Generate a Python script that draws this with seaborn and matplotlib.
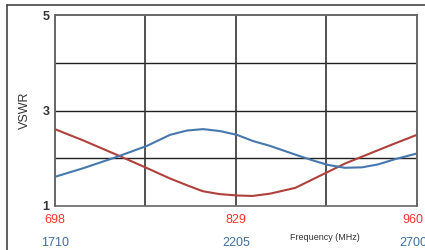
import numpy as np
import pandas as pd
import matplotlib.pyplot as plt
import seaborn as sns
from matplotlib.lines import Line2D
from matplotlib.transforms import ScaledTranslation

# low band (red) and high band (blue) VSWR
low_freq = [698, 718, 743, 765, 781, 794, 805, 817, 830, 841, 854, 872, 884, 896, 908, 920, 932, 944, 960]
low_vswr = [2.61, 2.38, 2.07, 1.79, 1.58, 1.43, 1.31, 1.25, 1.22, 1.21, 1.26, 1.38, 1.55, 1.72, 1.89, 2.03, 2.17, 2.31, 2.49]
high_freq = [1710, 1787, 1880, 1962, 2025, 2071, 2115, 2161, 2208, 2252, 2298, 2366, 2413, 2457, 2503, 2550, 2593, 2640, 2700]
high_vswr = [1.61, 1.79, 2.03, 2.26, 2.49, 2.58, 2.61, 2.57, 2.49, 2.36, 2.26, 2.08, 1.96, 1.86, 1.80, 1.81, 1.87, 1.98, 2.10]
low_ticks = [698, 829, 960]
high_ticks = [1710, 2205, 2700]

sns.set_style("white")
plt.rcParams['font.family'] = ['Liberation Sans', 'DejaVu Sans']

fig = plt.figure(figsize=(4.25, 2.5), dpi=100)
ax = fig.add_axes([0.129, 0.176, 0.852, 0.764])

low = pd.DataFrame({"f": low_freq, "v": low_vswr})
high = pd.DataFrame({"f": high_freq, "v": high_vswr})

sns.lineplot(data=low, x="f", y="v", ax=ax, color="#b0403c", lw=1.5)
ax.set_xlim(698, 960)
ax.set_ylim(1, 5)

ax2 = ax.twiny()
sns.lineplot(data=high, x="f", y="v", ax=ax2, color="#4677ad", lw=1.5)
ax2.set_xlim(1710, 2700)
ax2.set_ylim(1, 5)

# grid
for yv in [2, 3, 4]:
    ax.axhline(yv, color="#222222", lw=1.0, zorder=0)
for xv in np.linspace(698, 960, 5)[1:-1]:
    ax.axvline(xv, color="#333333", lw=1.2, zorder=0)

for a in (ax, ax2):
    for s in a.spines.values():
        s.set_color("#666666")
        s.set_linewidth(1.2)
    a.set_xlabel("")
    a.set_ylabel("")

ax.set_yticks([1, 3, 5])
ax.set_yticklabels(["1", "3", "5"], fontsize=9, fontweight="bold", color="#333333")
ax.tick_params(axis="y", length=0, pad=4)
ax.set_ylabel("VSWR", fontsize=9, color="#333333", labelpad=8)

ax.set_xticks(low_ticks)
ax.set_xticklabels([str(t) for t in low_ticks], fontsize=9, color="#ff3333")
ax.tick_params(axis="x", length=0, pad=6)

ax2.xaxis.set_ticks_position("bottom")
ax2.xaxis.set_label_position("bottom")
ax2.spines["bottom"].set_visible(False)
ax2.set_xticks(high_ticks)
ax2.set_xticklabels([str(t) for t in high_ticks], fontsize=9, color="#3f6f9f")
ax2.tick_params(axis="x", length=0, pad=22)

# last labels sit a little left of the right edge
shift = ScaledTranslation(-4 / 100, 0, fig.dpi_scale_trans)
for lab in (ax.get_xticklabels()[-1], ax2.get_xticklabels()[-1]):
    lab.set_transform(lab.get_transform() + shift)

fig.text(0.765, 0.05, "Frequency (MHz)", fontsize=6.5, color="#333333", ha="center", va="center")

# outer frame
fig.add_artist(Line2D([0.017, 1.0], [0.98, 0.98], color="#444444", lw=1.2, transform=fig.transFigure))
fig.add_artist(Line2D([0.017, 0.017], [0.0, 0.98], color="#444444", lw=1.2, transform=fig.transFigure))

fig.savefig("out.png", dpi=100)
